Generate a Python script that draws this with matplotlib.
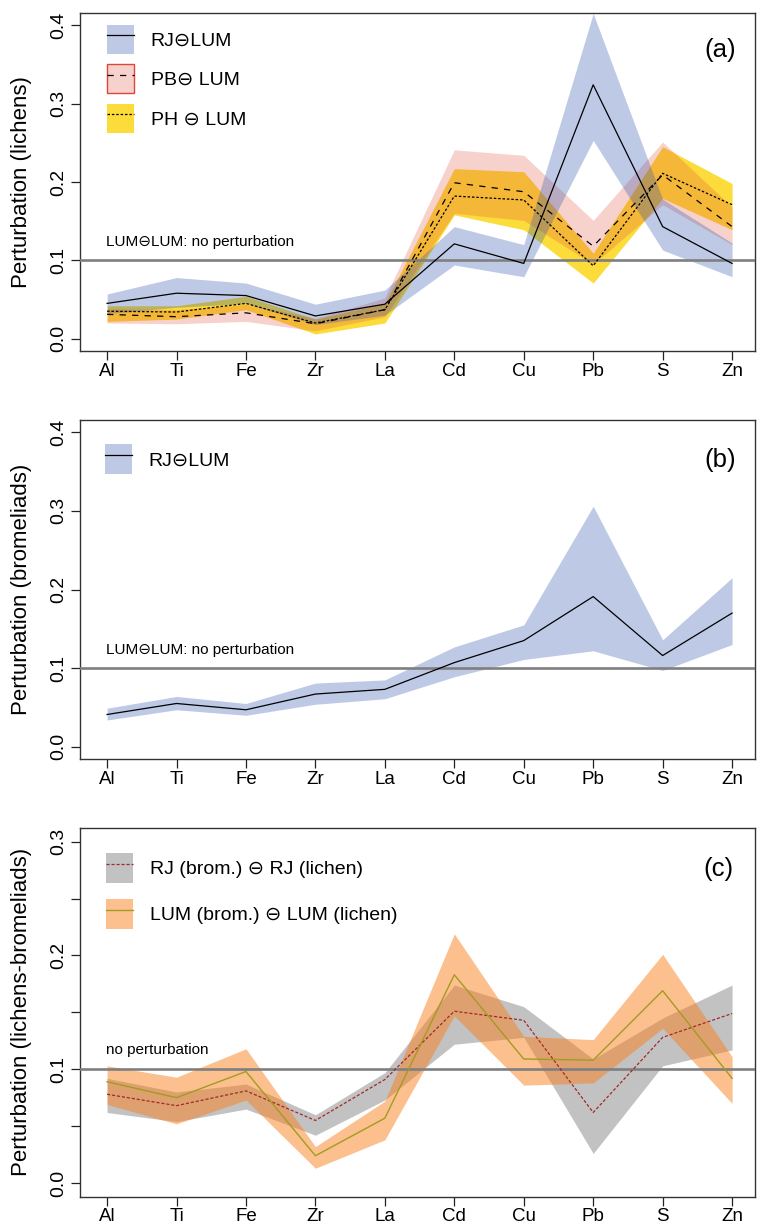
import matplotlib
matplotlib.use("Agg")
import matplotlib.pyplot as plt
from matplotlib.patches import Patch
from matplotlib.lines import Line2D
from matplotlib.legend_handler import HandlerTuple
import numpy as np

plt.rcParams['font.family'] = ['Liberation Sans', 'DejaVu Sans']

elements = ['Al', 'Ti', 'Fe', 'Zr', 'La', 'Cd', 'Cu', 'Pb', 'S', 'Zn']

# Panel (a): lichens
a_rj = [0.045, 0.058, 0.055, 0.029, 0.044, 0.121, 0.096, 0.324, 0.143, 0.096]
a_rj_lo = [0.032, 0.040, 0.045, 0.018, 0.030, 0.094, 0.079, 0.253, 0.113, 0.079]
a_rj_hi = [0.057, 0.078, 0.071, 0.044, 0.062, 0.143, 0.120, 0.415, 0.178, 0.122]

a_pb = [0.031, 0.028, 0.033, 0.019, 0.037, 0.199, 0.1875, 0.118, 0.209, 0.143]
a_pb_lo = [0.020, 0.019, 0.022, 0.010, 0.028, 0.160, 0.151, 0.095, 0.171, 0.120]
a_pb_hi = [0.038, 0.037, 0.044, 0.026, 0.052, 0.241, 0.234, 0.151, 0.251, 0.168]

a_ph = [0.035, 0.034, 0.045, 0.020, 0.037, 0.182, 0.177, 0.093, 0.211, 0.171]
a_ph_lo = [0.022, 0.025, 0.037, 0.006, 0.020, 0.158, 0.139, 0.071, 0.179, 0.139]
a_ph_hi = [0.042, 0.042, 0.054, 0.025, 0.045, 0.217, 0.213, 0.109, 0.245, 0.198]

# Panel (b): bromeliads
b_rj = [0.041, 0.055, 0.047, 0.067, 0.073, 0.107, 0.135, 0.191, 0.116, 0.170]
b_rj_lo = [0.034, 0.047, 0.040, 0.054, 0.061, 0.089, 0.111, 0.122, 0.097, 0.130]
b_rj_hi = [0.049, 0.064, 0.055, 0.081, 0.085, 0.127, 0.155, 0.306, 0.136, 0.215]

# Panel (c): lichens-bromeliads
c_rj = [0.078, 0.068, 0.081, 0.055, 0.091, 0.151, 0.143, 0.062, 0.128, 0.149]
c_rj_lo = [0.062, 0.054, 0.065, 0.042, 0.073, 0.122, 0.128, 0.026, 0.103, 0.117]
c_rj_hi = [0.092, 0.080, 0.087, 0.060, 0.097, 0.174, 0.155, 0.109, 0.145, 0.174]

c_lum = [0.089, 0.075, 0.098, 0.024, 0.057, 0.183, 0.109, 0.108, 0.169, 0.092]
c_lum_lo = [0.069, 0.052, 0.073, 0.013, 0.038, 0.147, 0.086, 0.088, 0.136, 0.070]
c_lum_hi = [0.103, 0.093, 0.118, 0.032, 0.072, 0.219, 0.129, 0.126, 0.201, 0.111]

x = np.arange(1, len(elements) + 1)

BLUE = (42/255, 82/255, 170/255, 0.30)
PINK = (227/255, 74/255, 51/255, 0.25)
YELLOW = '#fbdc3a'
GRAY = (0.53, 0.53, 0.53, 0.5)
ORANGE = (250/255, 128/255, 30/255, 0.5)
HLINE = '#7f7f7f'
DARKRED = '#a3282a'
OLIVE = '#a29c1f'

fig = plt.figure(figsize=(7.59, 12.28), dpi=100)
W = 1228.0
axa = fig.add_axes([80/759, 1 - 351.2/W, 675/759, 338.5/W])
axb = fig.add_axes([80/759, 1 - 759.3/W, 675/759, 339.6/W])
axc = fig.add_axes([80/759, 1 - 1196.7/W, 675/759, 368.7/W])

LEG_FS = 14.0
FS_PX = LEG_FS * 100 / 72.0


def style(ax, ylim, yticks, ylabels, ylab):
    ax.set_xlim(0.61, 10.33)
    ax.set_ylim(*ylim)
    ax.set_xticks(x)
    ax.set_xticklabels(elements, fontsize=13.5)
    ax.set_yticks(yticks)
    ax.set_yticklabels(ylabels, fontsize=14)
    for lab in ax.get_yticklabels():
        lab.set_rotation(90)
        lab.set_va('center')
    ax.tick_params(axis='both', direction='out', length=6.3, width=0.9, color='#222222')
    ax.tick_params(axis='x', pad=2)
    ax.tick_params(axis='y', pad=3)
    for sp in ax.spines.values():
        sp.set_linewidth(1.0)
        sp.set_color('#333333')
    ax.set_ylabel(ylab, fontsize=16, va='center')
    ax.yaxis.set_label_coords(-0.086, 0.5)


def leg(ax, handles, labels, anchor, box_px, pitch_px):
    hh = (box_px / FS_PX - 0.245) / 0.65
    ls = (pitch_px - box_px) / FS_PX
    ax.legend(handles, labels, handler_map={tuple: HandlerTuple(ndivide=1)},
              loc='upper left', bbox_to_anchor=anchor, frameon=False,
              borderpad=0, borderaxespad=0, handlelength=27 / FS_PX, handleheight=hh,
              labelspacing=ls, handletextpad=0.85, fontsize=LEG_FS)


# ---------------- Panel (a)
ax = axa
ax.fill_between(x, a_ph_lo, a_ph_hi, color=YELLOW, lw=0, zorder=1)
ax.fill_between(x, a_pb_lo, a_pb_hi, color=PINK, lw=0, zorder=2)
ax.fill_between(x, a_rj_lo, a_rj_hi, color=BLUE, lw=0, zorder=3)
ax.axhline(0.1, color=HLINE, lw=1.9, zorder=4)
ax.plot(x, a_rj, color='black', lw=0.9, zorder=5)
ax.plot(x, a_pb, color='black', lw=0.9, dashes=(5, 5), zorder=5)
ax.plot(x, a_ph, color='black', lw=0.9, dashes=(2, 1.5), zorder=5)
style(ax, (-0.016, 0.416), [0, 0.1, 0.2, 0.3, 0.4], ['0.0', '0.1', '0.2', '0.3', '0.4'],
      'Perturbation (lichens)')
ax.annotate('LUM\u2296LUM: no perturbation', xy=(1, 0.1), xytext=(-0.5, 13),
            textcoords='offset points', fontsize=11, ha='left', va='center')
ax.text(0.948, 0.89, '(a)', transform=ax.transAxes, fontsize=18.5, ha='center', va='center')
h1 = (Patch(facecolor=BLUE, edgecolor='none'), Line2D([], [], color='black', lw=0.9))
h2 = (Patch(facecolor=PINK, edgecolor='#e0453a', lw=1.0),
      Line2D([], [], color='black', lw=0.9, dashes=(5, 5)))
h3 = (Patch(facecolor=YELLOW, edgecolor='none'),
      Line2D([], [], color='black', lw=0.9, dashes=(2, 1.5)))
leg(ax, [h1, h2, h3], ['RJ\u2296LUM', 'PB\u2296 LUM', 'PH \u2296 LUM'],
    (0.04, 0.964), 29, 39.5)

# ---------------- Panel (b)
ax = axb
ax.fill_between(x, b_rj_lo, b_rj_hi, color=BLUE, lw=0, zorder=1)
ax.axhline(0.1, color=HLINE, lw=1.9, zorder=4)
ax.plot(x, b_rj, color='black', lw=0.9, zorder=5)
style(ax, (-0.016, 0.416), [0, 0.1, 0.2, 0.3, 0.4], ['0.0', '0.1', '0.2', '0.3', '0.4'],
      'Perturbation (bromeliads)')
ax.annotate('LUM\u2296LUM: no perturbation', xy=(1, 0.1), xytext=(-0.5, 13),
            textcoords='offset points', fontsize=11, ha='left', va='center')
ax.text(0.948, 0.881, '(b)', transform=ax.transAxes, fontsize=18.5, ha='center', va='center')
leg(ax, [h1], ['RJ\u2296LUM'], (0.037, 0.928), 30, 40)

# ---------------- Panel (c)
ax = axc
ax.fill_between(x, c_rj_lo, c_rj_hi, color=GRAY, lw=0, zorder=1)
ax.fill_between(x, c_lum_lo, c_lum_hi, color=ORANGE, lw=0, zorder=2)
ax.axhline(0.1, color=HLINE, lw=1.9, zorder=4)
ax.plot(x, c_rj, color=DARKRED, lw=0.9, dashes=(2.5, 1.5), zorder=5)
ax.plot(x, c_lum, color=OLIVE, lw=1.0, zorder=5)
style(ax, (-0.012, 0.312), [0, 0.05, 0.1, 0.15, 0.2, 0.25, 0.3],
      ['0.0', '', '0.1', '', '0.2', '', '0.3'], 'Perturbation (lichens-bromeliads)')
ax.annotate('no perturbation', xy=(1, 0.1), xytext=(-0.5, 13.5),
            textcoords='offset points', fontsize=11, ha='left', va='center')
ax.text(0.946, 0.889, '(c)', transform=ax.transAxes, fontsize=18.5, ha='center', va='center')
hc1 = (Patch(facecolor=GRAY, edgecolor='none'),
       Line2D([], [], color=DARKRED, lw=0.9, dashes=(2.5, 1.5)))
hc2 = (Patch(facecolor=ORANGE, edgecolor='none'), Line2D([], [], color=OLIVE, lw=1.0))
leg(ax, [hc1, hc2], ['RJ (brom.) \u2296 RJ (lichen)', 'LUM (brom.) \u2296 LUM (lichen)'],
    (0.0385, 0.932), 30, 46)

fig.savefig('out.png', dpi=100)
